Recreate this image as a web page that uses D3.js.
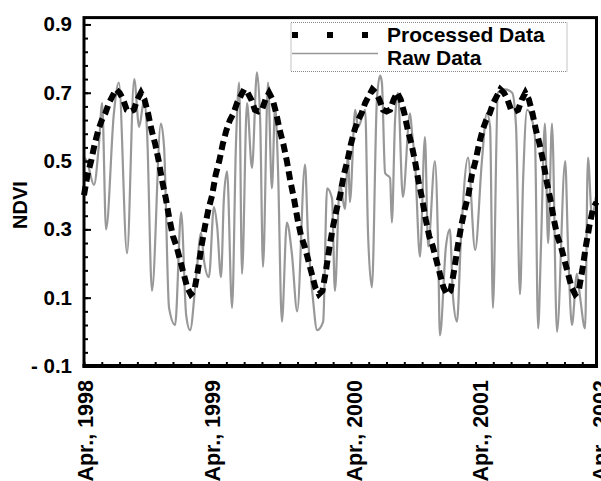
<!DOCTYPE html>
<html>
<head>
<meta charset="utf-8">
<script src="https://cdn.jsdelivr.net/npm/d3@7"></script>
<style>
  body { margin: 0; background: #fff; }
  text { font-family: "Liberation Sans", Arial, sans-serif; font-weight: bold; fill: #000; }
</style>
</head>
<body>
<div id="chart"></div>
<script>
// dekads since Apr. 1998, 36 per year
const processed = [
  0.40, 0.46, 0.50, 0.55, 0.59, 0.62, 0.64, 0.67, 0.69, 0.71, 0.70, 0.68, 0.65, 0.645, 0.65, 0.68, 0.70, 0.68,
  0.64, 0.59, 0.55, 0.50, 0.44, 0.39, 0.33, 0.28, 0.25, 0.21, 0.17, 0.13, 0.11, 0.12, 0.18, 0.25, 0.31, 0.36,
  0.40, 0.46, 0.50, 0.55, 0.59, 0.62, 0.64, 0.67, 0.69, 0.71, 0.70, 0.68, 0.65, 0.645, 0.65, 0.68, 0.70, 0.68,
  0.64, 0.59, 0.55, 0.50, 0.44, 0.39, 0.33, 0.28, 0.25, 0.21, 0.17, 0.13, 0.11, 0.12, 0.18, 0.25, 0.31, 0.36,
  0.40, 0.46, 0.50, 0.55, 0.59, 0.62, 0.64, 0.67, 0.69, 0.71, 0.70, 0.68, 0.65, 0.645, 0.65, 0.68, 0.70, 0.68,
  0.64, 0.59, 0.55, 0.50, 0.44, 0.39, 0.33, 0.28, 0.25, 0.21, 0.17, 0.13, 0.11, 0.12, 0.18, 0.25, 0.31, 0.36,
  0.40, 0.46, 0.50, 0.55, 0.59, 0.62, 0.64, 0.67, 0.69, 0.71, 0.70, 0.68, 0.65, 0.645, 0.65, 0.68, 0.70, 0.68,
  0.64, 0.59, 0.55, 0.50, 0.44, 0.39, 0.33, 0.28, 0.25, 0.21, 0.17, 0.13, 0.11, 0.12, 0.18, 0.25, 0.31, 0.36,
  0.38
]

// raw series read as turning points (dekad position, NDVI)
const rawT = [
  0.0, 0.8, 2.8, 4.2, 5.1, 6.2, 8.4, 9.8, 12.1, 14.1, 15.5, 16.9, 17.7, 19.1, 21.6, 22.5, 23.9, 25.6,
  27.3, 28.7, 29.8, 31.5, 32.9, 33.7, 35.1, 36.5, 37.4, 38.5, 39.3, 40.2, 41.6, 42.7, 43.6, 44.4, 45.8,
  47.2, 48.6, 49.5, 50.3, 51.7, 52.8, 53.7, 54.5, 55.6, 57.0, 58.4, 59.9, 62.1, 62.9, 64.3, 65.5, 67.2,
  68.3, 69.7, 70.5, 71.9, 73.3, 74.2, 74.7, 76.2, 77.0, 79.0, 79.8, 80.9, 82.3, 83.2, 83.7, 84.6, 86.0,
  86.5, 87.4, 88.2, 89.6, 91.6, 92.2, 93.0, 94.4, 95.8, 96.7, 98.6, 99.5, 100.0, 101.7, 102.8, 103.7,
  104.8, 105.9, 107.9, 109.9, 111.8, 113.2, 114.1, 114.9, 116.3, 118.3, 120.3, 121.4, 122.5, 123.4,
  124.5, 125.9, 126.7, 127.6, 128.4, 129.5, 130.4, 131.5, 132.9, 135.2, 136.0, 137.1, 138.5, 139.4,
  140.8, 141.6, 142.7, 143.9
]
const rawV = [
  0.51, 0.50, 0.43, 0.55, 0.67, 0.30, 0.64, 0.73, 0.23, 0.74, 0.60, 0.68, 0.59, 0.12, 0.61, 0.54, 0.07, 0.02,
  0.35, 0.05, 0.005, 0.16, 0.29, 0.21, 0.16, 0.365, 0.31, 0.16, 0.39, 0.47, 0.07, 0.55, 0.73, 0.17, 0.67,
  0.48, 0.76, 0.62, 0.19, 0.73, 0.42, 0.66, 0.48, 0.03, 0.32, 0.23, 0.06, 0.49, 0.29, 0.10, 0.005, 0.03,
  0.42, 0.39, 0.12, 0.435, 0.36, 0.52, 0.38, 0.65, 0.60, 0.65, 0.29, 0.13, 0.68, 0.75, 0.73, 0.465, 0.45,
  0.32, 0.62, 0.70, 0.395, 0.64, 0.58, 0.50, 0.22, 0.57, 0.25, 0.50, 0.25, -0.01, 0.25, 0.30, 0.10,
  0.03, 0.27, 0.51, 0.24, 0.50, 0.64, 0.60, 0.07, 0.70, 0.71, 0.70, 0.60, 0.11, 0.45,
  0.65, 0.62, 0.57, 0.01, 0.25, 0.61, 0.26, 0.61, 0.00, 0.50, 0.25, 0.02, 0.17, 0.10,
  0.01, 0.51, 0.34, 0.40
]

const yMajor = [-0.1, 0.1, 0.3, 0.5, 0.7, 0.9]
const yMajorLabels = ['- 0.1', '0.1', '0.3', '0.5', '0.7', '0.9']
const xLabels = ['Apr., 1998', 'Apr., 1999', 'Apr., 2000', 'Apr., 2001', 'Apr., 2002']
const xLabelAt = [0.5, 36, 76, 111.5, 145]

const width = 601
const height = 481

const svg = d3.create('svg')
    .attr('width', width)
    .attr('height', height)
    .attr('viewBox', [0, 0, width, height])

const x = d3.scaleLinear().domain([0, 144]).range([84, 596.5])
const y = d3.scaleLinear().domain([-0.1, 0.92]).range([366, 17.6])

/* raw data */
const rawLine = d3.line()
    .x(d => x(d[0]))
    .y(d => y(d[1]))
    .curve(d3.curveMonotoneX)

svg.append('path')
    .datum(rawT.map((t, i) => [t, rawV[i]]))
    .attr('fill', 'none')
    .attr('stroke', '#989898')
    .attr('stroke-width', 2.2)
    .attr('d', rawLine)

/* processed data */
const procLine = d3.line()
    .x((d, i) => x(i))
    .y(d => y(d))

svg.append('path')
    .datum(processed)
    .attr('fill', 'none')
    .attr('stroke', '#000')
    .attr('stroke-width', 6)
    .attr('stroke-dasharray', '9,5')
    .attr('d', procLine)

/* axes */
const yMinor = d3.range(-0.1, 0.9001, 0.04)
svg.append('g')
    .attr('transform', `translate(${x(0)},0)`)
    .call(d3.axisLeft(y).tickValues(yMinor).tickSize(-4).tickFormat(''))
    .call(g => g.select('.domain').remove())
    .call(g => g.selectAll('line').attr('stroke-width', 2))

svg.append('g')
    .attr('transform', `translate(${x(0)},0)`)
    .call(d3.axisLeft(y).tickValues(yMajor).tickSize(-7).tickPadding(12)
        .tickFormat((d, i) => yMajorLabels[i]))
    .call(g => g.select('.domain').remove())
    .call(g => g.selectAll('line').attr('stroke-width', 2))
    .call(g => g.selectAll('text').attr('font-size', 20.5).attr('font-family', null))

svg.append('g')
    .attr('transform', `translate(0,${y(-0.1)})`)
    .call(d3.axisBottom(x).tickValues(d3.range(0, 145, 5)).tickSize(-4).tickFormat(''))
    .call(g => g.select('.domain').remove())
    .call(g => g.selectAll('line').attr('stroke-width', 2))

/* frame */
svg.append('rect')
    .attr('x', x(0))
    .attr('y', y(0.92))
    .attr('width', x(144) - x(0))
    .attr('height', y(-0.1) - y(0.92))
    .attr('fill', 'none')
    .attr('stroke', '#000')
    .attr('stroke-width', 3)

svg.append('line')
    .attr('x1', x(0) - 1.5).attr('x2', x(144) + 1.5)
    .attr('y1', y(-0.1)).attr('y2', y(-0.1))
    .attr('stroke', '#000')
    .attr('stroke-width', 4)

/* x labels (the last one runs off the right edge, as in the original) */
svg.append('g')
    .selectAll('text')
    .data(xLabels)
    .join('text')
    .attr('transform', (d, i) => `translate(${x(xLabelAt[i]) + 7.5},380) rotate(-90)`)
    .attr('text-anchor', 'end')
    .attr('font-size', 21.5)
    .text(d => d)

/* y title */
svg.append('text')
    .attr('transform', 'translate(27,205) rotate(-90)')
    .attr('text-anchor', 'middle')
    .attr('font-size', 20)
    .text('NDVI')

/* legend */
const legend = svg.append('g')

legend.append('rect')
    .attr('x', 291).attr('y', 22.5)
    .attr('width', 276).attr('height', 49)
    .attr('fill', '#fff')
    .attr('stroke', '#888')
    .attr('stroke-width', 1)
    .attr('stroke-dasharray', '1,1')

legend.append('line')
    .attr('x1', 292).attr('x2', 368)
    .attr('y1', 35).attr('y2', 35)
    .attr('stroke', '#000')
    .attr('stroke-width', 6)
    .attr('stroke-dasharray', '6,29')

legend.append('line')
    .attr('x1', 292).attr('x2', 378)
    .attr('y1', 53.5).attr('y2', 53.5)
    .attr('stroke', '#989898')
    .attr('stroke-width', 1.5)

legend.append('text')
    .attr('x', 387).attr('y', 42)
    .attr('font-size', 21)
    .text('Processed Data')

legend.append('text')
    .attr('x', 387).attr('y', 65)
    .attr('font-size', 21)
    .text('Raw Data')

document.getElementById('chart').appendChild(svg.node())
</script>
</body>
</html>
